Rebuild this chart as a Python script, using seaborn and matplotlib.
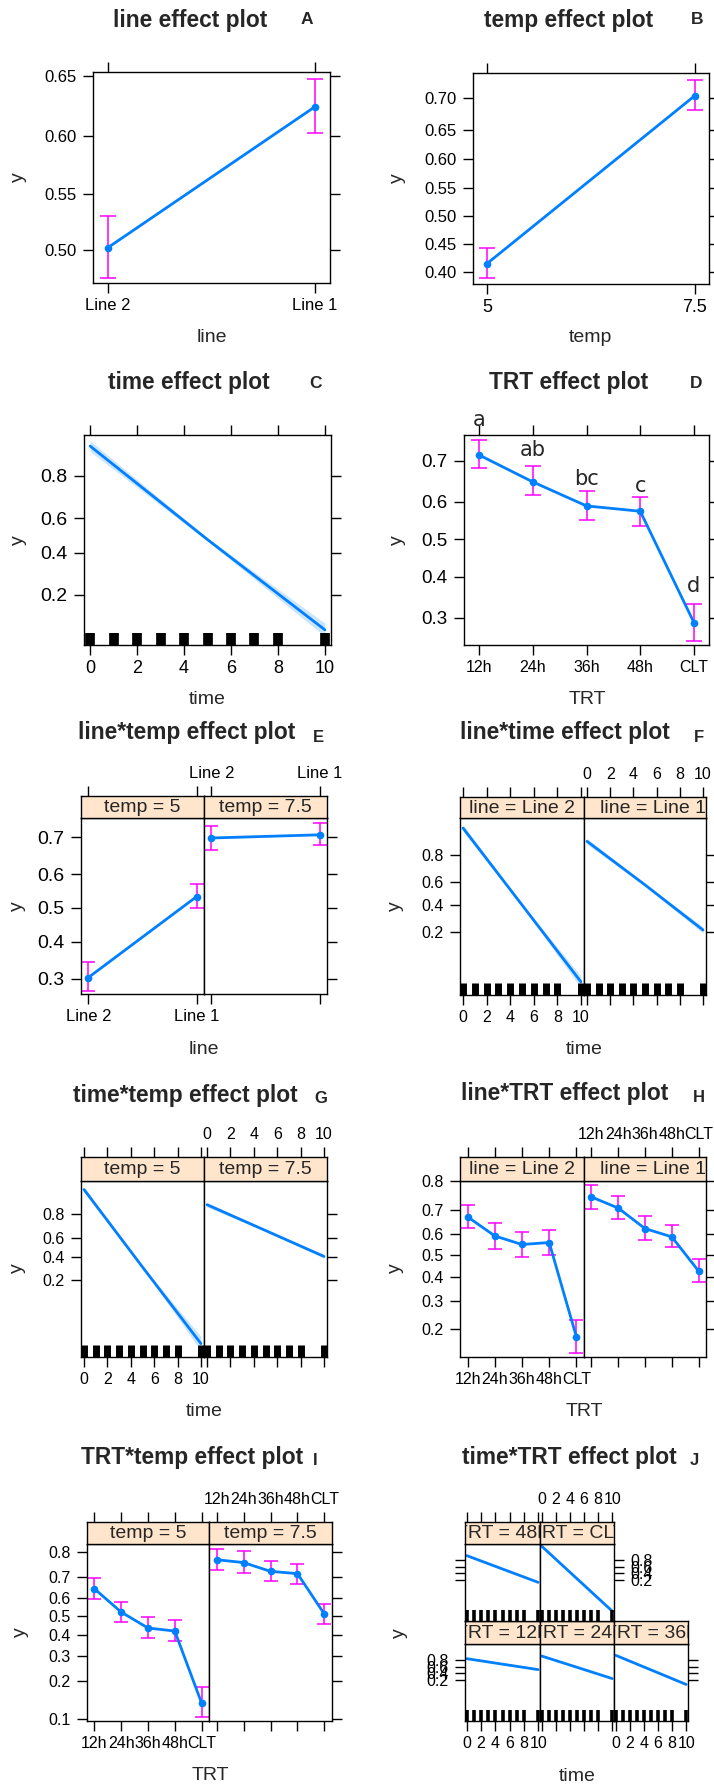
import numpy as np
import matplotlib
matplotlib.use("Agg")
import matplotlib.pyplot as plt
import seaborn as sns
from matplotlib.ticker import NullLocator

sns.set_style("white")
plt.rcParams["font.family"] = ["Liberation Sans", "DejaVu Sans"]

BLUE = "#0080ff"
MAG = "#ff00ff"
STRIP = "#ffe5cc"

# values (fitted probability and 95% limits)
line_lvls = ["Line 2", "Line 1"]
line_fit = [0.502, 0.625]
line_lo = [0.475, 0.603]
line_hi = [0.530, 0.648]

temp_lvls = ["5", "7.5"]
temp_x = [5, 7.5]
temp_fit = [0.415, 0.703]
temp_lo = [0.390, 0.681]
temp_hi = [0.443, 0.726]

time_x = [0, 5, 10]
time_fit = [0.889, 0.476, 0.100]
time_lo = [0.876, 0.467, 0.087]
time_hi = [0.901, 0.485, 0.115]
rug_time = [0, 1, 2, 3, 4, 5, 6, 7, 8, 10]

trt_lvls = ["12h", "24h", "36h", "48h", "CLT"]
trt_fit = [0.713, 0.650, 0.589, 0.575, 0.289]
trt_lo = [0.684, 0.617, 0.551, 0.537, 0.251]
trt_hi = [0.745, 0.688, 0.628, 0.613, 0.332]
trt_letters = ["a", "ab", "bc", "c", "d"]
trt_letter_y = [0.784, 0.724, 0.656, 0.640, 0.376]

# line*temp
lt5_fit = [0.303, 0.534]
lt5_lo = [0.271, 0.501]
lt5_hi = [0.343, 0.570]
lt75_fit = [0.698, 0.706]
lt75_lo = [0.667, 0.680]
lt75_hi = [0.728, 0.734]

# line*time
ltime2_fit = [0.912, 0.400, 0.041]
ltime2_lo = [0.902, 0.392, 0.033]
ltime2_hi = [0.921, 0.408, 0.050]
ltime1_fit = [0.866, 0.577, 0.214]
ltime1_lo = [0.853, 0.568, 0.195]
ltime1_hi = [0.878, 0.586, 0.234]

# time*temp
tt5_fit = [0.920, 0.300, 0.0163]
tt5_lo = [0.911, 0.293, 0.012]
tt5_hi = [0.928, 0.307, 0.022]
tt75_fit = [0.858, 0.669, 0.402]
tt75_lo = [0.845, 0.661, 0.385]
tt75_hi = [0.870, 0.677, 0.420]

# line*TRT
ltrt2_fit = [0.673, 0.590, 0.551, 0.560, 0.179]
ltrt2_lo = [0.626, 0.532, 0.493, 0.504, 0.139]
ltrt2_hi = [0.721, 0.647, 0.608, 0.618, 0.229]
ltrt1_fit = [0.749, 0.708, 0.623, 0.586, 0.428]
ltrt1_lo = [0.706, 0.663, 0.573, 0.537, 0.377]
ltrt1_hi = [0.788, 0.751, 0.675, 0.637, 0.482]

# TRT*temp
trt5_fit = [0.644, 0.523, 0.438, 0.422, 0.135]
trt5_lo = [0.595, 0.470, 0.384, 0.372, 0.103]
trt5_hi = [0.694, 0.579, 0.499, 0.483, 0.180]
trt75_fit = [0.772, 0.761, 0.725, 0.715, 0.512]
trt75_lo = [0.732, 0.719, 0.680, 0.667, 0.461]
trt75_hi = [0.811, 0.802, 0.766, 0.757, 0.567]

# time*TRT
tTRT12 = [0.822, 0.682, 0.500]
tTRT24 = [0.869, 0.580, 0.222]
tTRT36 = [0.880, 0.490, 0.111]
tTRT48 = [0.876, 0.521, 0.144]
tTRTCLT = [0.963, 0.218, 0.003]

W, H = 714, 1785
fig = plt.figure(figsize=(W / 100, H / 100), dpi=100)


def box(x0, y0, x1, y1):
    return fig.add_axes([x0 / W, 1 - y1 / H, (x1 - x0) / W, (y1 - y0) / H])


def ftext(x, y, s, **kw):
    fig.text(x / W, 1 - y / H, s, ha="center", va="center", **kw)


def frame(ax, left="", right="", bottom="", top="", xls=11.5, yls=11.5):
    # "" = nothing, "t" = ticks only, "l" = ticks with labels
    ax.tick_params(axis="both", which="major", direction="out", length=7, width=1,
                   colors="black",
                   left=left != "", labelleft=left == "l",
                   right=right != "", labelright=right == "l",
                   bottom=bottom != "", labelbottom=bottom == "l",
                   top=top != "", labeltop=top == "l")
    ax.tick_params(axis="x", pad=4, labelsize=xls)
    ax.tick_params(axis="y", pad=5, labelsize=yls)
    for s in ax.spines.values():
        s.set_visible(True)
        s.set_color("black")
        s.set_linewidth(1)
    ax.set_xlabel("")
    ax.set_ylabel("")


def logit_y(ax, lim, ticks, fmt):
    ax.set_yscale("logit")
    ax.set_ylim(*lim)
    ax.set_yticks(ticks, [fmt.format(t) for t in ticks])
    ax.yaxis.set_minor_locator(NullLocator())


def points(ax, x, fit, lo, hi, cap=6):
    ax.errorbar(x, fit, yerr=[np.subtract(fit, lo), np.subtract(hi, fit)], fmt="none",
                ecolor=MAG, elinewidth=1.1, capsize=cap, capthick=1.1, zorder=2)
    sns.lineplot(x=x, y=fit, ax=ax, color=BLUE, linewidth=2, marker="o", markersize=5.5,
                 markeredgewidth=0, errorbar=None, zorder=3)


def curve(ax, fit, lo=None, hi=None, rug_h=0.06, rug_w=5):
    if lo is not None:
        ax.fill_between(time_x, lo, hi, color=BLUE, alpha=0.2, lw=0)
    sns.lineplot(x=time_x, y=fit, ax=ax, color=BLUE, linewidth=2, errorbar=None)
    sns.rugplot(x=rug_time, ax=ax, height=rug_h, color="black", linewidth=rug_w,
                expand_margins=False)


def strip(x0, x1, y0, y1, text, xlim, xticks, xlabels, top="", tx=0.5):
    s = box(x0, y0, x1, y1)
    s.set_facecolor(STRIP)
    s.set_xlim(*xlim)
    s.set_ylim(0, 1)
    s.set_yticks([])
    s.set_xticks(xticks, xlabels)
    frame(s, top=top)
    s.text(tx, 0.47, text, transform=s.transAxes, ha="center", va="center",
           fontsize=14, clip_on=True)
    return s


TLIM = (-0.26, 10.26)
TTICKS = [0, 2, 4, 6, 8, 10]
TLAB = [str(t) for t in TTICKS]
CLIM = (-0.28, 4.28)

# ---------------- A: line ----------------
ax = box(93, 72, 330, 283)
points(ax, [0, 1], line_fit, line_lo, line_hi)
ax.set_xlim(-0.072, 1.072)
ax.set_xticks([0, 1], line_lvls)
logit_y(ax, (0.4705, 0.6535), [0.50, 0.55, 0.60, 0.65], "{:.2f}")
frame(ax, left="l", right="t", bottom="l", top="t", xls=12, yls=12)
ftext(190, 20, "line effect plot", fontsize=16.4, fontweight="bold")
ftext(307, 20, "A", fontsize=12.5, fontweight="bold")
ftext(212, 338, "line", fontsize=14)
ftext(18, 177, "y", fontsize=14, rotation=90)

# ---------------- B: temp ----------------
ax = box(473, 73, 709, 284)
points(ax, temp_x, temp_fit, temp_lo, temp_hi)
ax.set_xlim(4.832, 7.672)
ax.set_xticks(temp_x, temp_lvls)
logit_y(ax, (0.380, 0.736), [0.40, 0.45, 0.50, 0.55, 0.60, 0.65, 0.70], "{:.2f}")
frame(ax, left="l", right="t", bottom="l", top="t", xls=13, yls=12)
ftext(569, 20, "temp effect plot", fontsize=16.4, fontweight="bold")
ftext(697, 20, "B", fontsize=12.5, fontweight="bold")
ftext(590, 338, "temp", fontsize=14)
ftext(397, 178, "y", fontsize=14, rotation=90)

# ---------------- C: time ----------------
ax = box(84, 435, 331, 645)
curve(ax, time_fit, time_lo, time_hi, rug_h=12 / 210, rug_w=7)
ax.set_xlim(*TLIM)
ax.set_xticks(TTICKS, TLAB)
logit_y(ax, (0.0724, 0.912), [0.2, 0.4, 0.6, 0.8], "{:.1f}")
frame(ax, left="l", right="t", bottom="l", top="t", xls=13, yls=14)
ftext(189, 383, "time effect plot", fontsize=16.4, fontweight="bold")
ftext(315, 383, "C", fontsize=12.5, fontweight="bold")
ftext(207, 700, "time", fontsize=14)
ftext(18, 540, "y", fontsize=14, rotation=90)

# ---------------- D: TRT ----------------
ax = box(464, 435, 709, 645)
points(ax, list(range(5)), trt_fit, trt_lo, trt_hi)
for i, (lab, ly) in enumerate(zip(trt_letters, trt_letter_y)):
    ax.text(i, ly, lab, ha="center", va="center", fontsize=15,
            family="DejaVu Sans", clip_on=False)
ax.set_xlim(*CLIM)
ax.set_xticks(range(5), trt_lvls)
logit_y(ax, (0.242, 0.755), [0.3, 0.4, 0.5, 0.6, 0.7], "{:.1f}")
frame(ax, left="l", right="t", bottom="l", top="t", xls=11.5, yls=13.5)
ftext(569, 383, "TRT effect plot", fontsize=16.4, fontweight="bold")
ftext(696, 383, "D", fontsize=12.5, fontweight="bold")
ftext(587, 700, "TRT", fontsize=14)
ftext(397, 540, "y", fontsize=14, rotation=90)

# ---------------- E: line*temp ----------------
for (x0, x1), fit, lo, hi, lab, side in [((81, 204), lt5_fit, lt5_lo, lt5_hi, "temp = 5", "left"),
                                         ((204, 327), lt75_fit, lt75_lo, lt75_hi, "temp = 7.5", "right")]:
    ax = box(x0, 818, x1, 994)
    points(ax, [0, 1], fit, lo, hi, cap=5.3)
    ax.set_xlim(-0.068, 1.068)
    ax.set_xticks([0, 1], line_lvls)
    logit_y(ax, (0.263, 0.746), [0.3, 0.4, 0.5, 0.6, 0.7], "{:.1f}")
    if side == "left":
        frame(ax, left="l", bottom="l", xls=12, yls=14)
        strip(x0, x1, 796, 818, lab, (-0.068, 1.068), [0, 1], line_lvls, top="t")
    else:
        frame(ax, right="t", bottom="t", xls=12, yls=14)
        s = strip(x0, x1, 796, 818, lab, (-0.068, 1.068), [0, 1], line_lvls, top="l")
        s.tick_params(axis="x", labelsize=12)
ftext(187, 733, "line*temp effect plot", fontsize=16.4, fontweight="bold")
ftext(318, 737, "E", fontsize=12, fontweight="bold")
ftext(204, 1050, "line", fontsize=14)
ftext(17, 906, "y", fontsize=14, rotation=90)

# ---------------- F: line*time ----------------
for (x0, x1), fit, lo, hi, lab, side in [((460, 584), ltime2_fit, ltime2_lo, ltime2_hi, "line = Line 2", "left"),
                                         ((584, 706), ltime1_fit, ltime1_lo, ltime1_hi, "line = Line 1", "right")]:
    ax = box(x0, 818, x1, 995)
    curve(ax, fit, lo, hi, rug_h=12 / 177, rug_w=5)
    ax.set_xlim(*TLIM)
    ax.set_xticks(TTICKS, TLAB)
    logit_y(ax, (0.026, 0.937), [0.2, 0.4, 0.6, 0.8], "{:.1f}")
    if side == "left":
        frame(ax, left="l", bottom="l")
        strip(x0, x1, 797, 818, lab, TLIM, TTICKS, TLAB, top="t")
    else:
        frame(ax, right="t", bottom="t")
        strip(x0, x1, 797, 818, lab, TLIM, TTICKS, TLAB, top="l", tx=0.565)
ftext(565, 733, "line*time effect plot", fontsize=16.4, fontweight="bold")
ftext(699, 737, "F", fontsize=12, fontweight="bold")
ftext(584, 1050, "time", fontsize=14)
ftext(395, 906, "y", fontsize=14, rotation=90)

# ---------------- G: time*temp ----------------
for (x0, x1), fit, lo, hi, lab, side in [((81, 204), tt5_fit, tt5_lo, tt5_hi, "temp = 5", "left"),
                                         ((204, 327), tt75_fit, tt75_lo, tt75_hi, "temp = 7.5", "right")]:
    ax = box(x0, 1181, x1, 1357)
    curve(ax, fit, lo, hi, rug_h=12 / 176, rug_w=5)
    ax.set_xlim(*TLIM)
    ax.set_xticks(TTICKS, TLAB)
    logit_y(ax, (0.0093, 0.943), [0.2, 0.4, 0.6, 0.8], "{:.1f}")
    if side == "left":
        frame(ax, left="l", bottom="l")
        strip(x0, x1, 1157, 1181, lab, TLIM, TTICKS, TLAB, top="t")
    else:
        frame(ax, right="t", bottom="t")
        strip(x0, x1, 1157, 1181, lab, TLIM, TTICKS, TLAB, top="l")
ftext(185, 1095, "time*temp effect plot", fontsize=16.4, fontweight="bold")
ftext(321, 1098, "G", fontsize=12, fontweight="bold")
ftext(204, 1412, "time", fontsize=14)
ftext(17, 1268, "y", fontsize=14, rotation=90)

# ---------------- H: line*TRT ----------------
for (x0, x1), fit, lo, hi, lab, side in [((460, 584), ltrt2_fit, ltrt2_lo, ltrt2_hi, "line = Line 2", "left"),
                                         ((584, 706), ltrt1_fit, ltrt1_lo, ltrt1_hi, "line = Line 1", "right")]:
    ax = box(x0, 1181, x1, 1357)
    points(ax, list(range(5)), fit, lo, hi, cap=5.3)
    ax.set_xlim(*CLIM)
    ax.set_xticks(range(5), trt_lvls)
    logit_y(ax, (0.130, 0.801), [0.2, 0.3, 0.4, 0.5, 0.6, 0.7, 0.8], "{:.1f}")
    if side == "left":
        frame(ax, left="l", bottom="l")
        strip(x0, x1, 1157, 1181, lab, CLIM, range(5), trt_lvls, top="t")
    else:
        frame(ax, right="t", bottom="t")
        strip(x0, x1, 1157, 1181, lab, CLIM, range(5), trt_lvls, top="l", tx=0.565)
ftext(565, 1093, "line*TRT effect plot", fontsize=16.4, fontweight="bold")
ftext(699, 1097, "H", fontsize=12, fontweight="bold")
ftext(584, 1412, "TRT", fontsize=14)
ftext(395, 1268, "y", fontsize=14, rotation=90)

# ---------------- I: TRT*temp ----------------
for (x0, x1), fit, lo, hi, lab, side in [((87, 209), trt5_fit, trt5_lo, trt5_hi, "temp = 5", "left"),
                                         ((209, 332), trt75_fit, trt75_lo, trt75_hi, "temp = 7.5", "right")]:
    ax = box(x0, 1544, x1, 1721)
    points(ax, list(range(5)), fit, lo, hi, cap=5.3)
    ax.set_xlim(*CLIM)
    ax.set_xticks(range(5), trt_lvls)
    logit_y(ax, (0.0954, 0.826), [0.1, 0.2, 0.3, 0.4, 0.5, 0.6, 0.7, 0.8], "{:.1f}")
    if side == "left":
        frame(ax, left="l", bottom="l")
        strip(x0, x1, 1522, 1544, lab, CLIM, range(5), trt_lvls, top="t")
    else:
        frame(ax, right="t", bottom="t")
        strip(x0, x1, 1522, 1544, lab, CLIM, range(5), trt_lvls, top="l")
ftext(192, 1457, "TRT*temp effect plot", fontsize=16.4, fontweight="bold")
ftext(315, 1460, "I", fontsize=12, fontweight="bold")
ftext(210, 1775, "TRT", fontsize=14)
ftext(20, 1632, "y", fontsize=14, rotation=90)

# ---------------- J: time*TRT ----------------
jcols = [(465, 540), (540, 614), (614, 688)]
jpanels = [
    (jcols[0], (1644, 1721), (1621, 1644), tTRT12, "TRT = 12h", dict(left="l", bottom="l"), ""),
    (jcols[1], (1644, 1721), (1621, 1644), tTRT24, "TRT = 24h", dict(bottom="t"), ""),
    (jcols[2], (1644, 1721), (1621, 1644), tTRT36, "TRT = 36h", dict(right="t", bottom="l"), ""),
    (jcols[0], (1544, 1621), (1522, 1544), tTRT48, "TRT = 48h", dict(left="t"), "t"),
    (jcols[1], (1544, 1621), (1522, 1544), tTRTCLT, "TRT = CLT", dict(right="l"), "l"),
]
for (x0, x1), (y0, y1), (s0, s1), fit, lab, sides, top in jpanels:
    ax = box(x0, y0, x1, y1)
    curve(ax, fit, rug_h=11 / 77, rug_w=2.6)
    ax.set_xlim(*TLIM)
    ax.set_xticks(TTICKS, TLAB)
    logit_y(ax, (0.00075, 0.973), [0.2, 0.4, 0.6, 0.8], "{:.1f}")
    frame(ax, **sides)
    strip(x0, x1, s0, s1, lab, TLIM, TTICKS, TLAB, top=top)
ftext(569, 1457, "time*TRT effect plot", fontsize=16.4, fontweight="bold")
ftext(694, 1460, "J", fontsize=12, fontweight="bold")
ftext(577, 1776, "time", fontsize=14)
ftext(399, 1633, "y", fontsize=14, rotation=90)

fig.savefig("out.png", dpi=100)
